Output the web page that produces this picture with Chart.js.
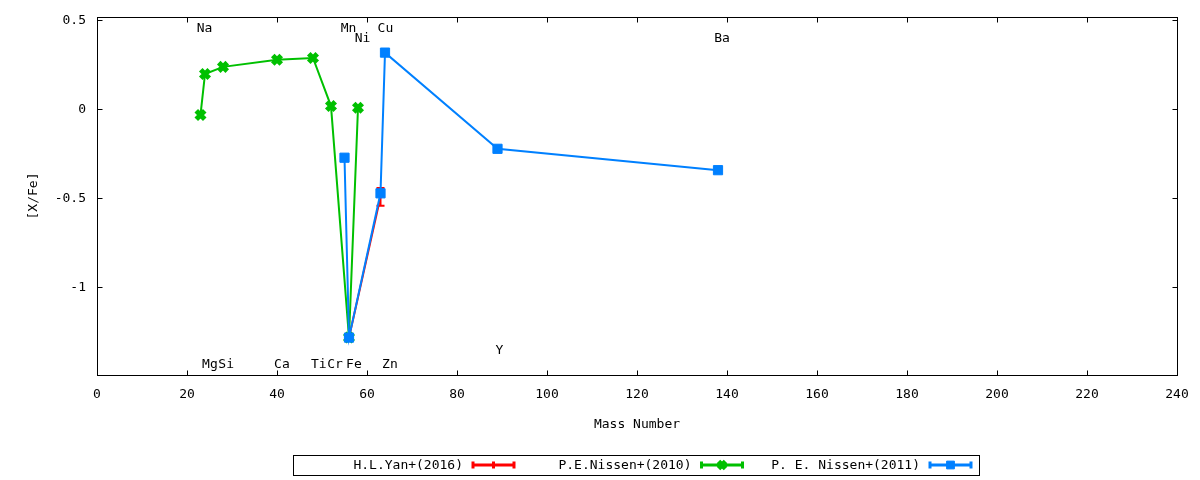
<!DOCTYPE html>
<html>
<head>
<meta charset="utf-8">
<script src="https://cdn.jsdelivr.net/npm/chart.js@4.4.1/dist/chart.umd.min.js"></script>
<style>
html, body { margin: 0; padding: 0; background: #fff; }
</style>
</head>
<body>
<canvas id="abundChart" width="1200" height="480"></canvas>
<script>
// H.L.Yan+(2016)
const yanMass = [56, 63];
const yanXFe = [-1.28, -0.49];
const yanErr = [0, 0.05];

// P.E.Nissen+(2010)
const nissen10Mass = [23, 24, 28, 40, 48, 52, 56, 58];
const nissen10XFe = [-0.03, 0.20, 0.24, 0.28, 0.29, 0.02, -1.28, 0.01];

// P. E. Nissen+(2011)
const nissen11Mass = [55, 56, 63, 64, 89, 138];
const nissen11XFe = [-0.27, -1.28, -0.47, 0.32, -0.22, -0.34];

const seriesNames = ["H.L.Yan+(2016)", "P.E.Nissen+(2010)", "P. E. Nissen+(2011)"];
const seriesColors = ["#ff0000", "#00c000", "#0080ff"];

const xTicks = [0, 20, 40, 60, 80, 100, 120, 140, 160, 180, 200, 220, 240];
const yTicks = [-1, -0.5, 0, 0.5];

// element labels (placed in data coordinates)
const elemNames  = ["Na", "Mg", "Si", "Ca", "Ti", "Cr", "Mn", "Fe", "Ni", "Cu", "Zn", "Y", "Ba"];
const elemLabelX = [23.9, 25.1, 28.7, 41.1, 49.3, 52.9, 55.9, 57.1, 59.0, 64.1, 65.1, 89.4, 138.9];
const elemLabelY = [0.455, -1.432, -1.432, -1.432, -1.432, -1.432, 0.455, -1.432, 0.40, 0.455, -1.432, -1.354, 0.40];

const FONT = "13px 'DejaVu Sans Mono'";

function toPoints(xs, ys){
    return xs.map(function(x, i){ return {x: x, y: ys[i]}; });
}

const markerStyles = [
    {pointStyle: false, radius: 0},
    {pointStyle: 'crossRot', radius: 6, borderWidth: 5},
    {pointStyle: 'rect', radius: 6.5, borderWidth: 1}
];

// error bars for the Yan points, drawn right after that dataset
const errorBars = {
    id: 'errorBars',
    afterDatasetDraw(chart, args){
        if(args.index !== 0) return;
        const ctx = chart.ctx, xs = chart.scales.x, ys = chart.scales.y;
        ctx.save();
        ctx.strokeStyle = seriesColors[0];
        ctx.lineWidth = 2;
        for(let i = 0; i < yanMass.length; i++){
            if(!yanErr[i]) continue;
            const px = xs.getPixelForValue(yanMass[i]);
            const y1 = ys.getPixelForValue(yanXFe[i] - yanErr[i]);
            const y2 = ys.getPixelForValue(yanXFe[i] + yanErr[i]);
            ctx.beginPath();
            ctx.moveTo(px, y1); ctx.lineTo(px, y2);
            ctx.moveTo(px - 4, y1); ctx.lineTo(px + 4, y1);
            ctx.moveTo(px - 4, y2); ctx.lineTo(px + 4, y2);
            ctx.stroke();
        }
        ctx.restore();
    }
};

// border, inward ticks, element names and the boxed legend
const frame = {
    id: 'frame',
    afterDraw(chart){
        const ctx = chart.ctx, a = chart.chartArea;
        const xs = chart.scales.x, ys = chart.scales.y;
        ctx.save();
        ctx.strokeStyle = '#000';
        ctx.lineWidth = 1;
        const L = Math.floor(a.left) + 0.5, R = Math.floor(a.right) + 0.5;
        const T = Math.floor(a.top) + 0.5, B = Math.floor(a.bottom) + 0.5;
        ctx.strokeRect(L, T, R - L, B - T);
        ctx.beginPath();
        xTicks.forEach(function(v){
            const px = Math.floor(xs.getPixelForValue(v)) + 0.5;
            ctx.moveTo(px, B); ctx.lineTo(px, B - 5);
            ctx.moveTo(px, T); ctx.lineTo(px, T + 5);
        });
        yTicks.forEach(function(v){
            const py = Math.floor(ys.getPixelForValue(v)) + 0.5;
            ctx.moveTo(L, py); ctx.lineTo(L + 5, py);
            ctx.moveTo(R, py); ctx.lineTo(R - 5, py);
        });
        ctx.stroke();

        ctx.fillStyle = '#000';
        ctx.font = FONT;
        ctx.textAlign = 'center';
        ctx.textBaseline = 'middle';
        for(let i = 0; i < elemNames.length; i++){
            ctx.fillText(elemNames[i], xs.getPixelForValue(elemLabelX[i]), ys.getPixelForValue(elemLabelY[i]));
        }

        // legend
        ctx.strokeRect(293.5, 455.5, 686, 20);
        const ly = 466;
        for(let i = 0; i < seriesNames.length; i++){
            const textEnd = 463 + i * 228.5;
            ctx.fillStyle = '#000';
            ctx.textAlign = 'right';
            ctx.fillText(seriesNames[i], textEnd, ly);
            const x0 = textEnd + 9, x1 = textEnd + 52;
            const sy = 465;
            ctx.strokeStyle = seriesColors[i];
            ctx.fillStyle = seriesColors[i];
            ctx.lineWidth = 3;
            ctx.beginPath();
            ctx.moveTo(x0, sy); ctx.lineTo(x1, sy);
            ctx.moveTo(x0 + 1, sy - 3.5); ctx.lineTo(x0 + 1, sy + 3.5);
            ctx.moveTo(x1 - 1, sy - 3.5); ctx.lineTo(x1 - 1, sy + 3.5);
            if(i === 0){
                const xm = (x0 + x1) / 2;
                ctx.moveTo(xm, sy - 3.5); ctx.lineTo(xm, sy + 3.5);
            }
            ctx.stroke();
            if(i > 0){
                const m = markerStyles[i];
                ctx.lineWidth = m.borderWidth;
                Chart.helpers.drawPoint(ctx, {pointStyle: m.pointStyle, radius: m.radius - 1, rotation: 0, borderWidth: m.borderWidth}, (x0 + x1) / 2, sy);
            }
            ctx.strokeStyle = '#000';
            ctx.lineWidth = 1;
        }
        ctx.restore();
    }
};

function makeDataset(i, xs, ys, order){
    const m = markerStyles[i];
    return {
        label: seriesNames[i],
        data: toPoints(xs, ys),
        borderColor: seriesColors[i],
        backgroundColor: seriesColors[i],
        borderWidth: 2,
        tension: 0,
        fill: false,
        pointStyle: m.pointStyle,
        pointRadius: m.radius,
        pointBorderWidth: m.borderWidth || 0,
        pointBackgroundColor: seriesColors[i],
        pointBorderColor: seriesColors[i],
        order: order
    };
}

const ctx = document.getElementById('abundChart').getContext('2d');
const abundChart = new Chart(ctx, {
    type: 'line',
    data: {
        datasets: [
            makeDataset(0, yanMass, yanXFe, 2),
            makeDataset(1, nissen10Mass, nissen10XFe, 1),
            makeDataset(2, nissen11Mass, nissen11XFe, 0)
        ]
    },
    options: {
        responsive: false,
        animation: false,
        devicePixelRatio: 1,
        layout: { padding: { left: 0, top: 17, right: 23, bottom: 48 } },
        plugins: {
            legend: { display: false },
            tooltip: { enabled: false }
        },
        scales: {
            x: {
                type: 'linear',
                min: 0,
                max: 240,
                grid: { display: false, drawTicks: false },
                border: { display: false },
                afterBuildTicks: function(s){ s.ticks = xTicks.map(function(v){ return {value: v}; }); },
                afterFit: function(s){ s.height = 57; s.paddingLeft = 0; s.paddingRight = 0; },
                ticks: { color: '#000', font: { family: 'DejaVu Sans Mono', size: 13 }, padding: 12, maxRotation: 0, autoSkip: false },
                title: { display: true, text: 'Mass Number', color: '#000', font: { family: 'DejaVu Sans Mono', size: 13 }, padding: { top: 0, bottom: 0 } }
            },
            y: {
                type: 'linear',
                min: -1.49,
                max: 0.52,
                grid: { display: false, drawTicks: false },
                border: { display: false },
                afterBuildTicks: function(s){ s.ticks = yTicks.map(function(v){ return {value: v}; }); },
                afterFit: function(s){ s.width = 97; s.paddingTop = 0; s.paddingBottom = 0; },
                ticks: { color: '#000', font: { family: 'DejaVu Sans Mono', size: 13 }, padding: 11,
                         callback: function(v){ return String(v); } },
                title: { display: true, text: '[X/Fe]', color: '#000', font: { family: 'DejaVu Sans Mono', size: 13 }, padding: { top: 26, bottom: 0 } }
            }
        }
    },
    plugins: [errorBars, frame]
});
</script>
</body>
</html>
